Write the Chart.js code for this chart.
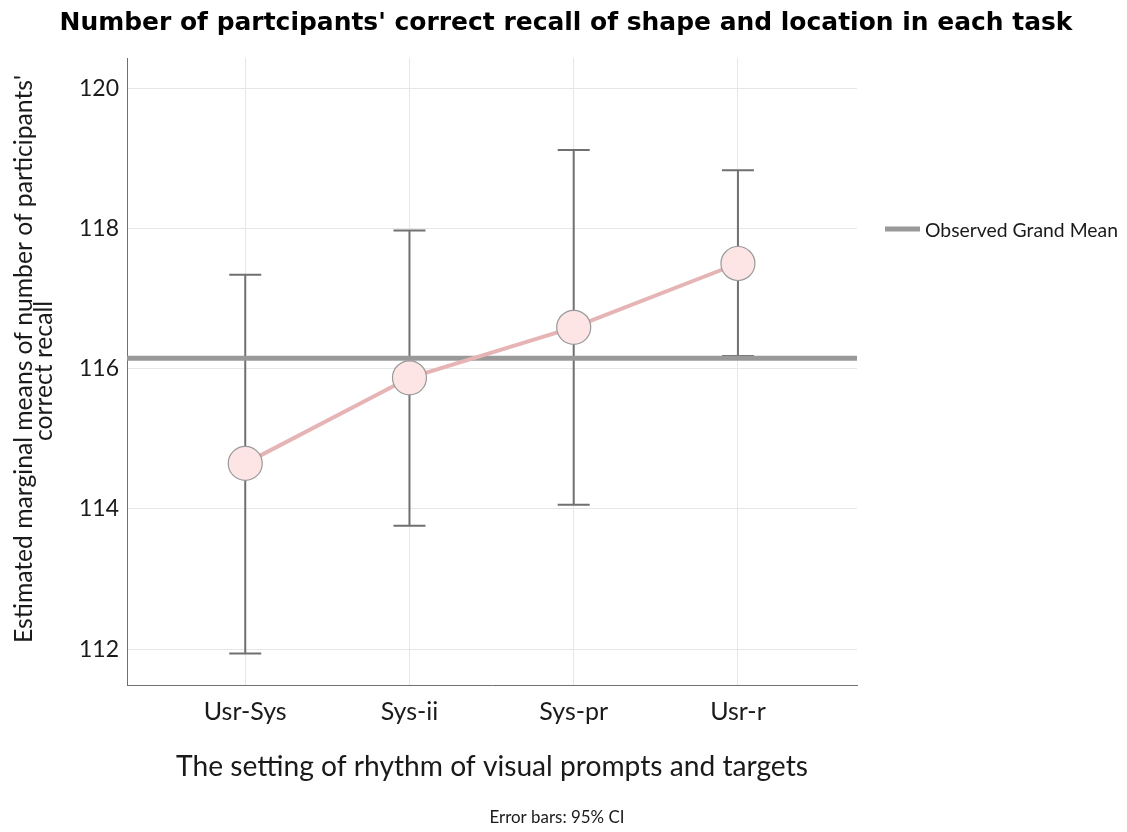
<!DOCTYPE html>
<html>
<head>
<meta charset="utf-8">
<script src="https://cdn.jsdelivr.net/npm/chart.js@4.4.1/dist/chart.umd.min.js"></script>
<style>
  html, body { margin: 0; padding: 0; background: #ffffff; }
  #wrap { width: 1127px; height: 832px; position: relative; }
</style>
</head>
<body>
<div id="wrap"><canvas id="c" width="1127" height="832"></canvas></div>
<script>
const categories = ['Usr-Sys', 'Sys-ii', 'Sys-pr', 'Usr-r'];
const means = [114.65, 115.87, 116.59, 117.50];
const ciLower = [111.94, 113.76, 114.06, 116.18];
const ciUpper = [117.34, 117.97, 119.12, 118.83];
const grandMean = 116.15;
const yTicks = [112, 114, 116, 118, 120];

const titleText = "Number of partcipants' correct recall of shape and location in each task";
const xTitle = 'The setting of rhythm of visual prompts and targets';
const yTitle = ["Estimated marginal means of number of participants'", 'correct recall'];
const legendLabel = 'Observed Grand Mean';
const footnote = 'Error bars: 95% CI';

const SANS = 'Lato, "Noto Sans", sans-serif';
const X_MIN = -0.72, X_MAX = 3.725;
const Y_MIN = 111.49, Y_MAX = 120.43;

function fitFont(ctx, text, weight, family, baseSize, targetWidth) {
  ctx.font = weight + ' ' + baseSize + 'px ' + family;
  const w = ctx.measureText(text).width;
  const s = baseSize * targetWidth / w;
  ctx.font = weight + ' ' + s.toFixed(2) + 'px ' + family;
  return s;
}

const errorBarPlugin = {
  id: 'errorBars',
  beforeDatasetsDraw(chart) {
    const { ctx, scales: { x, y } } = chart;
    ctx.save();
    ctx.strokeStyle = '#707070';
    ctx.lineWidth = 2;
    const cap = 16;
    for (let i = 0; i < categories.length; i++) {
      const px = x.getPixelForValue(i);
      const yl = y.getPixelForValue(ciLower[i]);
      const yu = y.getPixelForValue(ciUpper[i]);
      ctx.beginPath();
      ctx.moveTo(px, yl); ctx.lineTo(px, yu);
      ctx.moveTo(px - cap, yl); ctx.lineTo(px + cap, yl);
      ctx.moveTo(px - cap, yu); ctx.lineTo(px + cap, yu);
      ctx.stroke();
    }
    ctx.restore();
  }
};

const textPlugin = {
  id: 'texts',
  afterDraw(chart) {
    const { ctx, chartArea: a } = chart;
    ctx.save();
    ctx.textAlign = 'center';
    ctx.textBaseline = 'middle';

    // Title
    fitFont(ctx, titleText, 'bold', '"DejaVu Sans", sans-serif', 22, 1013);
    ctx.fillStyle = '#000000';
    ctx.fillText(titleText, 566, 24);

    // X axis title
    fitFont(ctx, xTitle, 'normal', SANS, 28, 632);
    ctx.fillStyle = '#1a1a1a';
    ctx.fillText(xTitle, (a.left + a.right) / 2, 767);

    // Footnote
    fitFont(ctx, footnote, 'normal', SANS, 17, 135);
    ctx.fillText(footnote, 557, 818);

    // Y axis title
    ctx.textBaseline = 'alphabetic';
    ctx.save();
    ctx.translate(32, 359);
    ctx.rotate(-Math.PI / 2);
    const ys = fitFont(ctx, yTitle[0], 'normal', SANS, 24, 568);
    ctx.fillText(yTitle[0], 0, 0);
    ctx.restore();
    ctx.save();
    ctx.translate(52, 371);
    ctx.rotate(-Math.PI / 2);
    ctx.font = 'normal ' + ys.toFixed(2) + 'px ' + SANS;
    ctx.fillText(yTitle[1], 0, 0);
    ctx.restore();

    // Legend
    ctx.strokeStyle = '#999999';
    ctx.lineWidth = 5;
    ctx.beginPath();
    ctx.moveTo(885, 229); ctx.lineTo(920, 229);
    ctx.stroke();
    fitFont(ctx, legendLabel, 'normal', SANS, 19, 193);
    ctx.textAlign = 'left';
    ctx.textBaseline = 'middle';
    ctx.fillStyle = '#1a1a1a';
    ctx.fillText(legendLabel, 925, 231);
    ctx.restore();
  }
};

new Chart(document.getElementById('c'), {
  type: 'line',
  data: {
    datasets: [
      {
        label: legendLabel,
        data: [{ x: X_MIN, y: grandMean }, { x: X_MAX, y: grandMean }],
        borderColor: '#999999',
        borderWidth: 5,
        pointRadius: 0,
        order: 2
      },
      {
        label: 'Means',
        data: means.map((v, i) => ({ x: i, y: v })),
        borderColor: '#e6b4b4',
        borderWidth: 4,
        pointRadius: 17,
        pointHoverRadius: 17,
        pointBackgroundColor: '#fde5e5',
        pointBorderColor: '#999999',
        pointBorderWidth: 1.2,
        order: 1
      }
    ]
  },
  options: {
    responsive: false,
    animation: false,
    events: [],
    layout: { padding: { top: 58, right: 270, left: 0, bottom: 0 } },
    plugins: {
      legend: { display: false },
      title: { display: false },
      tooltip: { enabled: false }
    },
    scales: {
      x: {
        type: 'linear',
        min: X_MIN,
        max: X_MAX,
        afterBuildTicks(scale) { scale.ticks = categories.map((c, i) => ({ value: i })); },
        afterFit(scale) { scale.height = 832 - 685; },
        ticks: {
          callback: (v) => categories[v],
          font: { family: SANS, size: 25 },
          color: '#1a1a1a',
          padding: 12,
          maxRotation: 0
        },
        grid: { color: '#e6e6e6', lineWidth: 1, drawTicks: false },
        border: { display: true, color: '#707070', width: 1 }
      },
      y: {
        type: 'linear',
        min: Y_MIN,
        max: Y_MAX,
        afterBuildTicks(scale) { scale.ticks = yTicks.map(v => ({ value: v })); },
        afterFit(scale) { scale.width = 127; },
        ticks: {
          font: { family: SANS, size: 23 },
          color: '#1a1a1a',
          padding: 8
        },
        grid: { color: '#e6e6e6', lineWidth: 1, drawTicks: false },
        border: { display: true, color: '#707070', width: 1 }
      }
    }
  },
  plugins: [errorBarPlugin, textPlugin]
});
</script>
</body>
</html>
